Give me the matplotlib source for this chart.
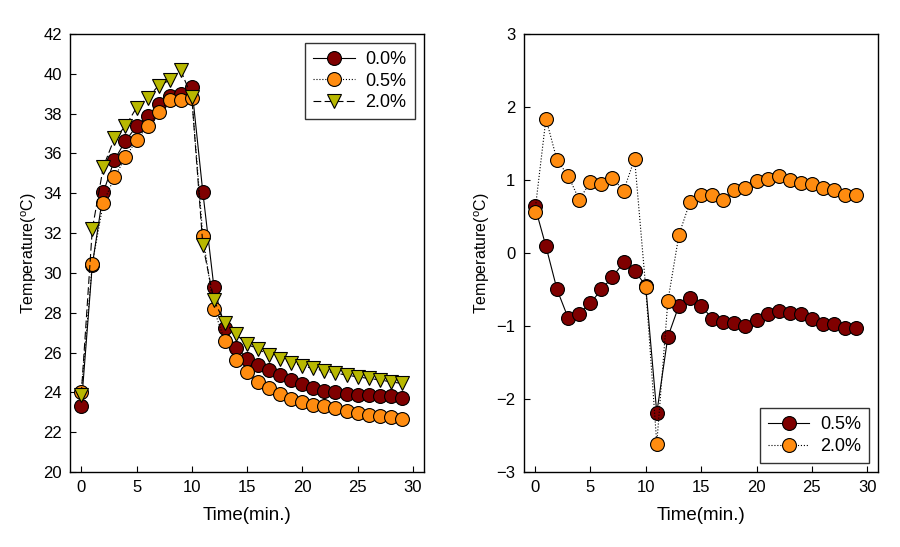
import matplotlib
matplotlib.use("Agg")
import matplotlib.pyplot as plt
import numpy as np

plt.rcParams['font.family'] = ['Liberation Sans', 'DejaVu Sans']
plt.rcParams['mathtext.fontset'] = 'custom'
plt.rcParams['mathtext.rm'] = 'Liberation Sans'

# --- Data ---
time = list(range(30))

# left panel: temperature
t_00 = [23.3, 30.4, 34.05, 35.67, 36.63, 37.36, 37.86, 38.46, 38.86, 38.96,
        39.33, 34.05, 29.3, 27.23, 26.25, 25.7, 25.38, 25.13, 24.87, 24.63,
        24.42, 24.2, 24.08, 24.0, 23.93, 23.88, 23.85, 23.83, 23.8, 23.7]
t_05 = [24.0, 30.47, 33.53, 34.8, 35.8, 36.67, 37.36, 38.08, 38.7, 38.67,
        38.8, 31.87, 28.17, 26.57, 25.63, 25.0, 24.5, 24.2, 23.92, 23.67,
        23.5, 23.38, 23.3, 23.2, 23.07, 22.97, 22.88, 22.82, 22.75, 22.67]
t_20 = [23.88, 32.2, 35.33, 36.75, 37.36, 38.3, 38.8, 39.4, 39.67, 40.17,
        38.83, 31.4, 28.63, 27.47, 26.92, 26.42, 26.17, 25.87, 25.7, 25.5,
        25.33, 25.2, 25.08, 24.97, 24.87, 24.78, 24.7, 24.63, 24.53, 24.45]

# right panel: temperature difference
d_05 = [0.64, 0.09, -0.5, -0.89, -0.83, -0.69, -0.5, -0.33, -0.13, -0.24,
        -0.45, -2.19, -1.15, -0.72, -0.62, -0.72, -0.9, -0.94, -0.96, -1.0,
        -0.92, -0.84, -0.8, -0.82, -0.84, -0.9, -0.97, -0.97, -1.03, -1.03]
d_20 = [0.56, 1.84, 1.27, 1.06, 0.73, 0.97, 0.95, 1.03, 0.85, 1.29,
        -0.47, -2.61, -0.66, 0.25, 0.70, 0.80, 0.79, 0.72, 0.86, 0.89,
        0.99, 1.02, 1.05, 1.0, 0.96, 0.95, 0.89, 0.86, 0.8, 0.8]

dark_red = '#7f0000'
orange = '#ff8c10'
olive = '#b8b800'

fig = plt.figure(figsize=(9, 5.47), dpi=100)
ax1 = fig.add_axes([0.078, 0.137, 0.393, 0.801])
ax2 = fig.add_axes([0.582, 0.137, 0.394, 0.801])

lw = 0.8
ms = 10
ax1.plot(time, t_00, color='black', lw=lw, ls='-', marker='o', ms=ms,
         mfc=dark_red, mec='black', mew=0.8, label='0.0%')
ax1.plot(time, t_05, color='black', lw=lw, ls=':', marker='o', ms=ms,
         mfc=orange, mec='black', mew=0.8, label='0.5%')
ax1.plot(time, t_20, color='black', lw=lw, ls=(0, (7, 3)), marker='v', ms=ms,
         mfc=olive, mec='black', mew=0.8, label='2.0%')
ax1.set_xlim(-1, 31)
ax1.set_ylim(20, 42)
ax1.set_yticks(np.arange(20, 43, 2))

ax2.plot(time, d_05, color='black', lw=lw, ls='-', marker='o', ms=ms,
         mfc=dark_red, mec='black', mew=0.8, label='0.5%')
ax2.plot(time, d_20, color='black', lw=lw, ls=':', marker='o', ms=ms,
         mfc=orange, mec='black', mew=0.8, label='2.0%')
ax2.set_xlim(-1, 31)
ax2.set_ylim(-3, 3)
ax2.set_yticks(np.arange(-3, 4, 1))

for ax in (ax1, ax2):
    ax.set_xticks(np.arange(0, 31, 5))
    ax.tick_params(direction='in', length=4, width=0.8, labelsize=12,
                   top=False, right=False, pad=6)
    for sp in ax.spines.values():
        sp.set_linewidth(1.0)
    ax.set_xlabel('Time(min.)', fontsize=13.5, labelpad=8)
    ax.set_ylabel('Temperature($^{\\mathrm{o}}$C)', fontsize=11.5, labelpad=3)

leg1 = ax1.legend(loc='upper right', fontsize=13, frameon=True, fancybox=False,
                  edgecolor='black', handlelength=2.3, borderpad=0.45,
                  labelspacing=0.25, borderaxespad=0.5, handletextpad=0.6)
leg1.get_frame().set_linewidth(1.0)
leg2 = ax2.legend(loc='lower right', fontsize=13, frameon=True, fancybox=False,
                  edgecolor='black', handlelength=2.3, borderpad=0.45,
                  labelspacing=0.25, borderaxespad=0.5, handletextpad=0.6)
leg2.get_frame().set_linewidth(1.0)

plt.savefig('out.png', dpi=100)
